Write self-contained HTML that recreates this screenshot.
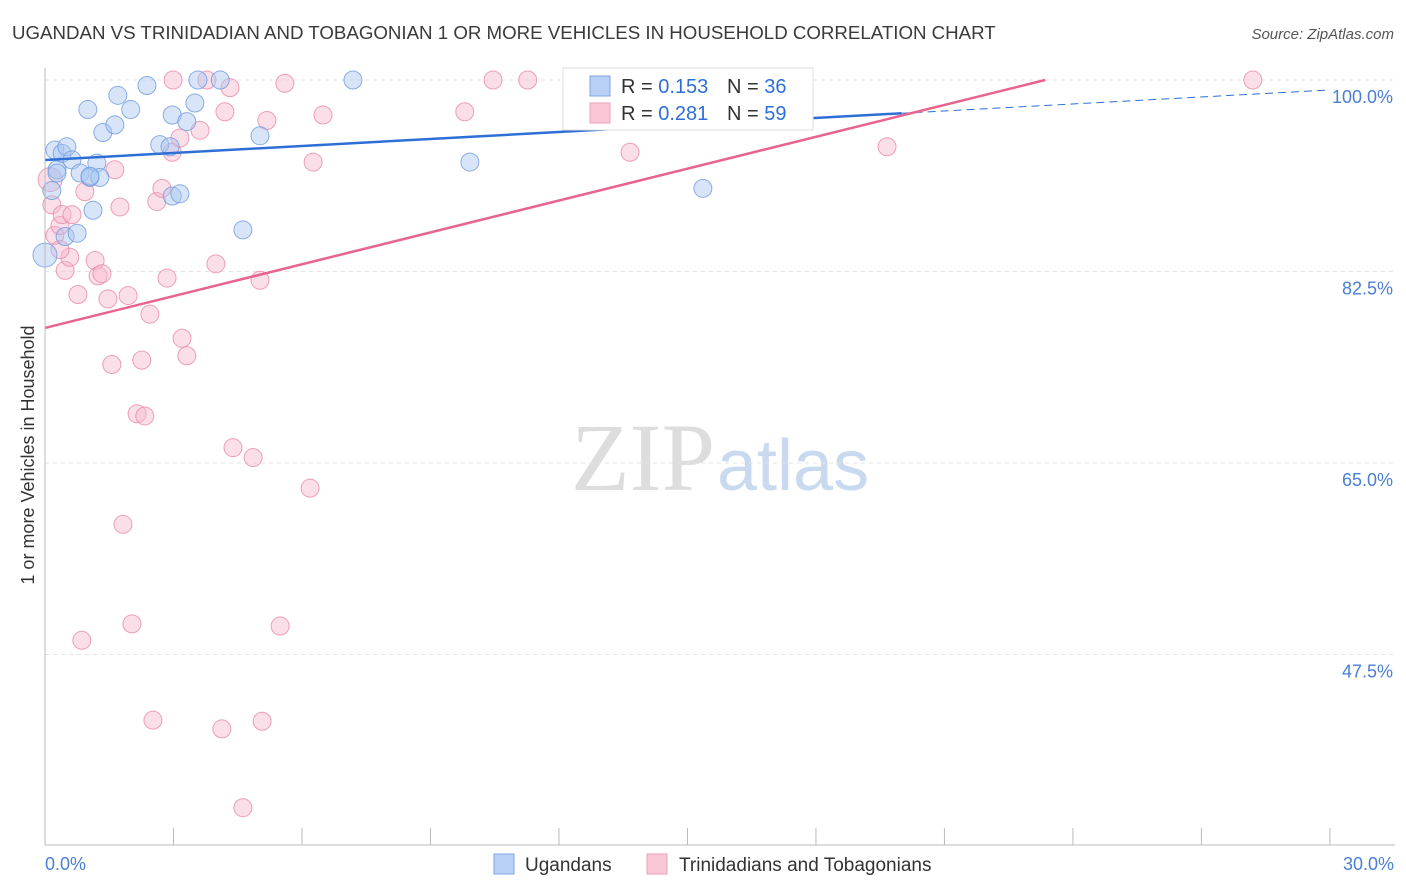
<!DOCTYPE html>
<html><head><meta charset="utf-8"><style>
body{margin:0;background:#fff;font-family:"Liberation Sans",sans-serif;}
svg{display:block}
</style></head><body>
<svg id="c" width="1406" height="892">
<text x="12" y="39" font-size="18.7" fill="#3a3a3a">UGANDAN VS TRINIDADIAN AND TOBAGONIAN 1 OR MORE VEHICLES IN HOUSEHOLD CORRELATION CHART</text>
<text x="1394" y="39" font-size="15" fill="#555" text-anchor="end" font-style="italic">Source: ZipAtlas.com</text>
<text x="715" y="490" font-size="96" fill="#ddd" text-anchor="end" font-family="Liberation Serif">ZIP</text>
<text x="717" y="490" font-size="72" fill="#c9daf0">atlas</text>
<text transform="translate(34,455) rotate(-90)" font-size="18" fill="#333" text-anchor="middle">1 or more Vehicles in Household</text>
<g id="grid"></g><g id="pts"></g><g id="lines"></g>
<line x1="45" y1="68" x2="45" y2="845" stroke="#bbb"/>
<line x1="45" y1="845" x2="1395" y2="845" stroke="#bbb"/>
<text x="45" y="870" font-size="18" fill="#4a7fd4">0.0%</text>
<text x="1394" y="870" font-size="18" fill="#4a7fd4" text-anchor="end">30.0%</text>
<g>
<rect x="563" y="68" width="250" height="62" fill="#fff" stroke="#ddd"/>
<rect x="590" y="76" width="20" height="20" fill="#b8d0f5" stroke="#7fa7e0"/>
<text x="621" y="93" font-size="20" fill="#333">R = <tspan fill="#2e6fd6">0.153</tspan></text>
<text x="727" y="93" font-size="20" fill="#333">N = <tspan fill="#2e6fd6">36</tspan></text>
<rect x="590" y="103" width="20" height="20" fill="#f9c7d6" stroke="#eea0b8"/>
<text x="621" y="120" font-size="20" fill="#333">R = <tspan fill="#2e6fd6">0.281</tspan></text>
<text x="727" y="120" font-size="20" fill="#333">N = <tspan fill="#2e6fd6">59</tspan></text>
</g>
<g>
<rect x="494" y="854" width="20" height="20" fill="#b8d0f5" stroke="#7fa7e0"/>
<text x="525" y="871" font-size="19" fill="#333">Ugandans</text>
<rect x="647" y="854" width="20" height="20" fill="#f9c7d6" stroke="#eea0b8"/>
<text x="679" y="871" font-size="19" fill="#333">Trinidadians and Tobagonians</text>
</g>
</svg>
<script>
const yTicks=[100,82.5,65,47.5];
const yTickLabels=["100.0%","82.5%","65.0%","47.5%"];
const blueX=[0,0.16,0.23,0.28,0.4,0.51,0.47,0.63,0.75,0.82,1.0,1.05,1.12,1.21,1.28,1.35,1.63,1.7,2.0,2.38,2.68,2.92,2.97,2.97,3.15,3.31,3.5,3.57,4.09,4.62,5.02,7.19,9.92,15.36,1.05,0.28];
const blueY=[84,89.9,93.6,91.8,93.3,93.9,85.7,92.7,86,91.5,97.3,91.1,88.1,92.4,91.1,95.2,95.9,98.6,97.3,99.5,94.1,93.9,89.4,96.8,89.6,96.2,97.9,100,100,86.3,94.9,100,92.5,90.1,91.2,91.5];
const pinkX=[0.12,0.16,0.23,0.35,0.4,0.47,0.58,0.63,0.77,0.93,1.17,1.24,1.33,1.47,1.56,1.63,1.75,1.82,1.94,2.03,2.15,2.26,2.33,2.45,2.52,2.61,2.73,2.85,2.97,2.99,3.15,3.2,3.31,3.62,3.78,3.99,4.13,4.2,4.32,4.39,4.62,4.86,5.02,5.07,5.18,5.49,5.6,6.19,6.26,6.49,9.8,10.46,11.27,12.56,13.66,19.66,28.2,0.86,0.35];
const pinkY=[90.9,88.6,85.8,86.7,87.7,82.6,83.8,87.7,80.4,89.8,83.5,82.1,82.3,80,74,91.8,88.4,59.4,80.3,50.3,69.5,74.4,69.3,78.6,41.5,88.9,90.1,81.9,93.4,100,94.7,76.4,74.8,95.4,100,83.2,40.7,97.1,99.3,66.4,33.5,65.5,81.7,41.4,96.3,50.1,99.7,62.7,92.5,96.8,97.1,100,100,99.5,93.4,93.9,100,48.8,84.5];
const blueLine=[92.69,99.09];
const pinkLine=[77.34,106.45];
const NS="http://www.w3.org/2000/svg";
const X=v=>45+v*42.83, Y=v=>80+(100-v)*10.943;
function mk(t,a,p){const e=document.createElementNS(NS,t);for(const k in a)e.setAttribute(k,a[k]);document.getElementById(p).appendChild(e);return e;}
yTicks.forEach((t,i)=>{
 const l=mk('line',{x1:45,x2:1395,y1:Y(t),y2:Y(t),stroke:'#e3e3e3','stroke-dasharray':'4,4'},'grid');
 
 
 const tx=mk('text',{x:1393,y:Y(t)+23,'font-size':18,fill:'#4a7fd4','text-anchor':'end'},'grid');
 tx.textContent=yTickLabels[i];
 
 
});
for(let i=1;i<=10;i++){const l=mk('line',{x1:X(i*3),x2:X(i*3),y1:828,y2:845,stroke:'#bbb'},'grid');
 
 }
function pts(xs,ys,fill,stroke,name){xs.forEach((x,i)=>{
 const c=mk('circle',{cx:X(x),cy:Y(ys[i]),r:(i==0?12:9),fill:fill,stroke:stroke,'stroke-width':1,'fill-opacity':0.45,'stroke-opacity':0.8},'pts');
 
 });}
pts(pinkX,pinkY,'#f7b9cc','#e88aa8','point-trinidadian');
pts(blueX,blueY,'#a9c6f2','#6f9be0','point-ugandan');
const by=x=>blueLine[0]+(blueLine[1]-blueLine[0])*x/30;
let l1=mk('line',{x1:X(0),y1:Y(by(0)),x2:X(20),y2:Y(by(20)),stroke:'#2e6fd6','stroke-width':2.5},'lines');


let l2=mk('line',{x1:X(20),y1:Y(by(20)),x2:X(30),y2:Y(by(30)),stroke:'#2e6fd6','stroke-width':1,'stroke-dasharray':'8,5'},'lines');


const ps=(pinkLine[1]-pinkLine[0])/30;
const xEnd=Math.min(30,(100-pinkLine[0])/ps);
let l3=mk('line',{x1:X(0),y1:Y(pinkLine[0]),x2:X(xEnd),y2:Y(pinkLine[0]+ps*xEnd),stroke:'#e8648e','stroke-width':2.5},'lines');


</script>
</body></html>
